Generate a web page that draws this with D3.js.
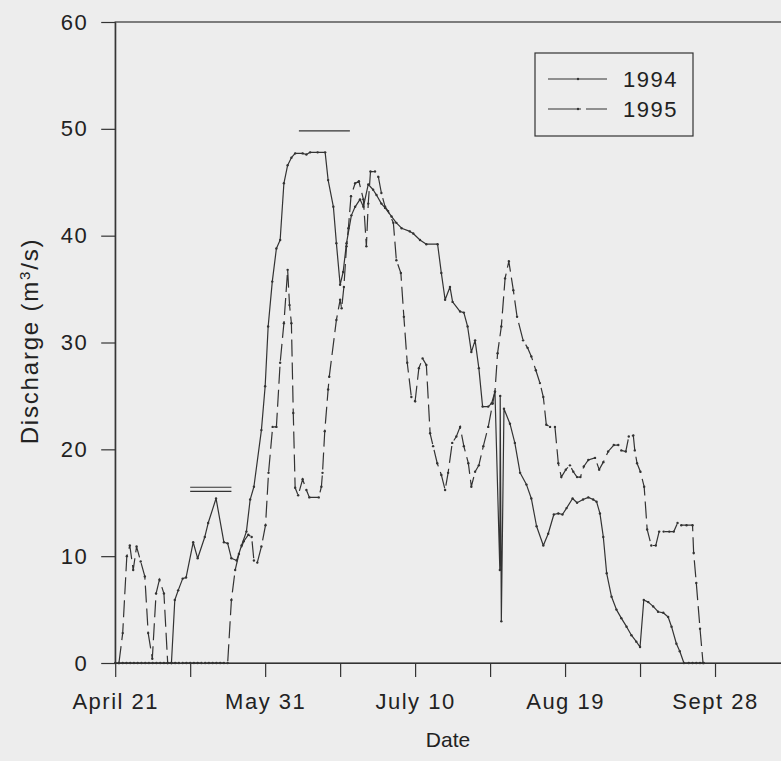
<!DOCTYPE html>
<html>
<head>
<meta charset="utf-8">
<script src="https://cdn.jsdelivr.net/npm/d3@7"></script>
<style>
  body { margin: 0; background: #ededed; }
  svg { display: block; font-family: "Liberation Sans", Arial, sans-serif; }
</style>
</head>
<body>
<svg id="chart" width="781" height="761"></svg>
<script>
// days after April 21, discharge in m3/s
const flow1994 = [
  [0,0],[1,0],[2,0],[3,0],[4,0],[5,0],[6,0],[7,0],[8,0],[9,0],[10,0],[11,0],[12,0],[13,0],[14,0],[15,0],
  [15.9,5.9],[16.8,6.8],[18,7.9],[18.9,8.0],[20.8,11.3],[22,9.8],[23.9,11.8],[24.8,13.1],[26.9,15.4],
  [29,11.3],[30,11.2],[31,9.8],[32.4,9.6],[33.7,11.0],[35,12.3],[36,15.3],[37,16.5],[39,21.8],[40,25.9],
  [40.8,31.5],[41.9,35.7],[43,38.8],[44,39.6],[45,44.9],[46,46.6],[47,47.3],[48,47.7],[50,47.7],[51,47.6],
  [52,47.8],[54,47.8],[56,47.8],[56.8,45.2],[58.2,42.7],[59,39.3],[60,35.4],[60.8,36.6],[61.7,39.3],
  [63,41.9],[64,42.7],[65.3,43.4],[66.2,42.7],[67.5,44.8],[68.8,44.3],[69.7,43.8],[71,43.0],[72,42.6],
  [73.7,41.8],[75,41.2],[76.4,40.7],[78.6,40.4],[79.5,40.2],[81.3,39.6],[83,39.2],[86,39.2],[87,36.5],
  [88,34.0],[89.3,35.2],[90,33.8],[92,32.9],[93,32.8],[94,31.5],[95,29.1],[96,30.2],[97,27.6],[98,24.0],
  [99.5,24.0],[100.4,24.3],[101.3,25.4],[102.6,8.7],[102.7,25.0],[103,3.9],[103.7,23.8],[105.3,22.4],
  [106.6,20.6],[108,17.8],[109.7,16.7],[111,15.4],[112.4,12.8],[114.2,11.0],[115.5,12.1],[117,13.9],
  [118.2,14.0],[119.3,13.9],[120.4,14.5],[122,15.4],[123.2,15.0],[124.8,15.3],[126.2,15.5],[127.5,15.3],
  [128.4,15.1],[129.3,14.0],[130.2,11.8],[131.1,8.4],[132.4,6.2],[133.7,5.0],[135,4.2],[136.4,3.4],
  [137.7,2.6],[139,2.0],[140,1.5],[141,5.9],[142.2,5.7],[143.5,5.3],[144.8,4.8],[146.2,4.7],[147.5,4.3],
  [148.4,3.4],[149.7,1.8],[150.6,1.1],[151.7,0],[153,0],[154,0],[155,0],[156,0],[157,0]
];

const flow1995 = [
  [1,0],[2,2.8],[3.1,10.0],[3.9,11.0],[4.8,8.7],[5.7,10.9],[6.8,9.5],[7.9,8.1],[8.8,2.8],[9.9,0.4],
  [10.9,6.5],[11.8,7.8],[13,6.5],[14,0],[15,0],[16,0],[17,0],[18,0],[19,0],[20,0],[21,0],[22,0],[23,0],
  [24,0],[25,0],[26,0],[27,0],[28,0],[29,0],[30,0],[31,5.9],[32,8.7],[33,10.2],[34.3,11.4],[35.5,12.0],
  [36.4,11.8],[37,9.6],[37.9,9.4],[39,10.9],[40.1,12.9],[40.9,17.8],[42,22.1],[43,22.1],[44,28.1],
  [45,31.8],[46,36.8],[46.5,33.5],[47,31.8],[47.5,23.4],[48,16.4],[48.8,15.7],[50,17.2],[51,16.2],
  [51.8,15.5],[54.3,15.5],[55,16.5],[55.3,17.8],[55.9,21.7],[56.8,25.6],[57.1,26.8],[59,32.1],[60,34.0],
  [60.4,33.2],[61,35.2],[61.7,39.0],[62.2,40.7],[62.9,43.7],[64,44.9],[65,45.1],[66.2,43.4],[67,39.0],
  [67.5,43.0],[68.1,46.0],[69.3,46.0],[70.2,45.5],[71,44.0],[72,42.7],[72.8,42.3],[74.2,41.2],[75,37.7],
  [76.2,36.5],[77,32.4],[77.9,28.1],[79,24.9],[80,24.5],[81,27.6],[82,28.5],[83,27.9],[84,21.5],
  [84.8,20.3],[85.9,18.7],[87,17.6],[88,16.2],[88.8,17.8],[89.9,20.6],[91,21.2],[92,22.1],[93,20.3],
  [94.2,18.7],[95,16.5],[96,17.9],[97,18.5],[98.2,20.3],[99.5,22.1],[100.7,24.3],[101.3,25.4],[102,29.0],
  [103,31.5],[104,36.0],[105,37.6],[106.2,34.9],[107.2,32.4],[108.8,30.2],[110,29.5],[111,28.7],
  [112.2,27.4],[113.3,26.2],[114.2,24.9],[115,22.3],[116,22.1],[117.3,22.1],[118.2,18.7],[119,17.4],
  [120.2,18.1],[121.3,18.5],[122.2,17.9],[123.2,17.4],[124.1,17.4],[125,18.4],[126.2,19.0],[128,19.2],
  [129.1,18.1],[130.2,18.8],[131.5,19.8],[133,20.4],[134.2,20.4],[135,19.9],[136.2,19.8],[137,21.2],
  [138.2,21.3],[138.6,19.9],[139.2,18.7],[140.1,17.9],[141.1,16.5],[141.9,12.5],[143,11.0],[144.2,11.0],
  [145.1,12.3],[146.3,12.3],[147.8,12.3],[149,12.3],[150,13.1],[151,12.9],[152.4,12.9],[154,12.9],
  [154.3,10.3],[155,7.5],[156,3.2],[156.8,0]
];

// horizontal marks drawn over the peaks
const marksDouble = [[20, 31, 16.45], [20, 31, 16.07]];
const marksSingle = [[49, 62.6, 49.8]];

const tickDays = [0, 20, 40, 60, 80, 100, 120, 140, 160, 180];
const labelDays = [0, 40, 80, 120, 160];
const labelNames = ["April 21", "May 31", "July 10", "Aug 19", "Sept 28"];
const yTicks = [0, 10, 20, 30, 40, 50, 60];
const years = ["1994", "1995"];

const ink = "#333";
const svg = d3.select("#chart");

const x = d3.scaleLinear().domain([0, 180]).range([115.2, 790]);
const y = d3.scaleLinear().domain([0, 60]).range([663, 22]);

// frame
svg.append("rect")
  .attr("x", x(0)).attr("y", y(60))
  .attr("width", x(180) - x(0)).attr("height", y(0) - y(60))
  .attr("fill", "none").attr("stroke", ink).attr("stroke-width", 1.2);

// y axis
const yAxis = svg.append("g")
  .attr("transform", "translate(" + x(0) + ",0)")
  .call(d3.axisLeft(y).tickValues(yTicks).tickSize(14).tickSizeOuter(0).tickPadding(13));
yAxis.select(".domain").attr("stroke", ink).attr("stroke-width", 1.2);
yAxis.selectAll(".tick line").attr("stroke", ink).attr("stroke-width", 1.2);
yAxis.selectAll(".tick text")
  .attr("fill", "#222").style("font-size", "22px").style("letter-spacing", "1.5px");

// x axis
const xAxis = svg.append("g")
  .attr("transform", "translate(0," + y(0) + ")")
  .call(d3.axisBottom(x).tickValues(tickDays).tickSize(14).tickSizeOuter(0).tickPadding(16)
    .tickFormat(d => {
      const i = labelDays.indexOf(d);
      return i < 0 ? "" : labelNames[i];
    }));
xAxis.select(".domain").attr("stroke", ink).attr("stroke-width", 1.2);
xAxis.selectAll(".tick line").attr("stroke", ink).attr("stroke-width", 1.2);
xAxis.selectAll(".tick text")
  .attr("fill", "#222").style("font-size", "22px").style("letter-spacing", "1.5px");

// axis titles
svg.append("text")
  .attr("x", 448).attr("y", 747)
  .attr("text-anchor", "middle")
  .attr("fill", "#222").style("font-size", "21px")
  .text("Date");

const yTitle = svg.append("text")
  .attr("transform", "translate(38,341) rotate(-90)")
  .attr("text-anchor", "middle")
  .attr("fill", "#222").style("font-size", "24px").style("letter-spacing", "1.8px");
yTitle.append("tspan").text("Discharge (m");
yTitle.append("tspan").attr("baseline-shift", "super").style("font-size", "15px").text("3");
yTitle.append("tspan").text("/s)");

// lines
const line = d3.line().x(d => x(d[0])).y(d => y(d[1]));

svg.append("path")
  .datum(flow1994)
  .attr("fill", "none").attr("stroke", ink).attr("stroke-width", 1.2)
  .attr("stroke-linejoin", "round")
  .attr("d", line);

svg.append("path")
  .datum(flow1995)
  .attr("fill", "none").attr("stroke", ink).attr("stroke-width", 1.2)
  .attr("stroke-dasharray", "17,6")
  .attr("d", line);

// point markers
[flow1994, flow1995].forEach(data => {
  svg.append("g").selectAll("circle")
    .data(data)
    .join("circle")
    .attr("cx", d => x(d[0]))
    .attr("cy", d => y(d[1]))
    .attr("r", 1.2)
    .attr("fill", ink);
});

// horizontal marks
svg.append("g").selectAll("line")
  .data(marksDouble.concat(marksSingle))
  .join("line")
  .attr("x1", d => x(d[0])).attr("x2", d => x(d[1]))
  .attr("y1", d => y(d[2])).attr("y2", d => y(d[2]))
  .attr("stroke", ink).attr("stroke-width", 1.2);

// legend
const legend = svg.append("g");
legend.append("rect")
  .attr("x", 535).attr("y", 53).attr("width", 158).attr("height", 83)
  .attr("fill", "none").attr("stroke", ink).attr("stroke-width", 1.2);

years.forEach((yr, i) => {
  const ly = 79 + i * 30;
  legend.append("line")
    .attr("x1", 548).attr("x2", 607).attr("y1", ly).attr("y2", ly)
    .attr("stroke", ink).attr("stroke-width", 1.2)
    .attr("stroke-dasharray", i === 1 ? "33,5,21" : null);
  legend.append("circle")
    .attr("cx", 578).attr("cy", ly).attr("r", 1.2).attr("fill", ink);
  legend.append("text")
    .attr("x", 623).attr("y", ly).attr("dy", "0.36em")
    .attr("fill", "#222").style("font-size", "22px").style("letter-spacing", "1.5px")
    .text(yr);
});
</script>
</body>
</html>
